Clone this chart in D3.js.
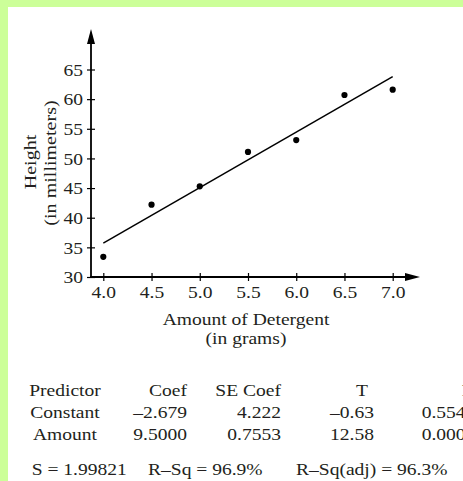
<!DOCTYPE html>
<html><head><meta charset="utf-8">
<script src="https://cdn.jsdelivr.net/npm/d3@7"></script>
<style>html,body{margin:0;padding:0;background:#ccff99;overflow:hidden}</style>
</head><body><svg id="c" width="463" height="481"></svg>
<script>
// ---- data ----
const amounts = [4.0, 4.5, 5.0, 5.5, 6.0, 6.5, 7.0];
const heights = [33.4, 42.2, 45.3, 51.1, 53.1, 60.7, 61.6];
const fitAmounts = [4.0, 7.0];
const fitHeights = [35.7, 63.8];
const xTicks = [4.0, 4.5, 5.0, 5.5, 6.0, 6.5, 7.0];
const yTicks = [30, 35, 40, 45, 50, 55, 60, 65];
const xTitle = ["Amount of Detergent", "(in grams)"];
const yTitle = ["Height", "(in millimeters)"];
const tableHeader = ["Predictor", "Coef", "SE Coef", "T", "P"];
const predictors = ["Constant", "Amount"];
const coefs = ["\u20132.679", "9.5000"];
const seCoefs = ["4.222", "0.7553"];
const tValues = ["\u20130.63", "12.58"];
const pValues = ["0.554", "0.000"];
const summary = ["S = 1.99821", "R\u2013Sq = 96.9%", "R\u2013Sq(adj) = 96.3%"];

// ---- setup ----
const svg = d3.select("#c");
const FONT = "'Liberation Serif', 'Times New Roman', serif";
const FS = 17, SX = 1.15, INK = "#231f20";
svg.append("rect").attr("x", 8).attr("y", 7).attr("width", 455).attr("height", 474).attr("fill", "#fff");

function txt(g, x, y, s, anchor, rot) {
  return g.append("text")
    .attr("transform", `translate(${x},${y})` + (rot ? ` rotate(${rot})` : "") + ` scale(${rot ? 1.18 : SX},1)`)
    .attr("text-anchor", anchor || "start")
    .attr("font-family", FONT).attr("font-size", FS).attr("fill", INK)
    .text(s);
}

const x = d3.scaleLinear().domain([4.0, 7.0]).range([103.3, 392.7]);
const y = d3.scaleLinear().domain([30, 65]).range([277, 69.5]);
const x0 = 91, y0 = 277;

// axes lines with arrows
svg.append("line").attr("x1", x0).attr("x2", x0).attr("y1", y0 + 1).attr("y2", 40).attr("stroke", "#000").attr("stroke-width", 1.8);
svg.append("line").attr("x1", x0 - 1).attr("x2", 410).attr("y1", y0).attr("y2", y0).attr("stroke", "#000").attr("stroke-width", 1.8);
svg.append("path").attr("d", `M${x0},29 L${x0 - 4},44 L${x0 + 4},44 Z`).attr("fill", "#000");
svg.append("path").attr("d", `M420,${y0} L405,${y0 - 4} L405,${y0 + 4} Z`).attr("fill", "#000");

// x axis ticks/labels
const gx = svg.append("g").attr("transform", `translate(0,${y0})`)
  .call(d3.axisBottom(x).tickValues(xTicks).tickFormat(d3.format(".1f")).tickSizeOuter(0));
gx.select(".domain").remove();
gx.selectAll(".tick line").attr("y1", -4).attr("y2", 4).attr("stroke", "#000").attr("stroke-width", 1.2);
gx.selectAll(".tick text").attr("y", 0).attr("dy", null)
  .attr("transform", "translate(0,21) scale(" + SX + ",1)")
  .attr("font-family", FONT).attr("font-size", FS).attr("fill", INK);

// y axis ticks/labels
const gy = svg.append("g").attr("transform", `translate(${x0},0)`)
  .call(d3.axisLeft(y).tickValues(yTicks).tickSizeOuter(0));
gy.select(".domain").remove();
gy.selectAll(".tick line").attr("x1", -4).attr("x2", 4).attr("stroke", "#000").attr("stroke-width", 1.2);
gy.selectAll(".tick text").attr("x", 0).attr("dy", "0.34em")
  .attr("transform", "translate(-8,0) scale(" + SX + ",1)")
  .attr("font-family", FONT).attr("font-size", FS).attr("fill", INK);

// fit line
svg.append("path")
  .datum(fitAmounts.map((a, i) => [a, fitHeights[i]]))
  .attr("d", d3.line().x(d => x(d[0])).y(d => y(d[1])))
  .attr("stroke", "#000").attr("stroke-width", 1.5).attr("fill", "none");

// points
svg.selectAll("circle.pt").data(amounts.map((a, i) => [a, heights[i]]))
  .enter().append("circle").attr("class", "pt")
  .attr("cx", d => x(d[0])).attr("cy", d => y(d[1])).attr("r", 3.1).attr("fill", "#000");

// titles
txt(svg, 246, 325, xTitle[0], "middle");
txt(svg, 246, 344, xTitle[1], "middle");
txt(svg, 36, 162, yTitle[0], "middle", -90);
txt(svg, 56, 163, yTitle[1], "middle", -90);

// table
const rowsY = [396, 418, 440];
txt(svg, 65, rowsY[0], tableHeader[0], "middle");
txt(svg, 187, rowsY[0], tableHeader[1], "end");
txt(svg, 281, rowsY[0], tableHeader[2], "end");
txt(svg, 362, rowsY[0], tableHeader[3], "middle");
txt(svg, 461.7, rowsY[0], tableHeader[4], "start");
predictors.forEach((p, i) => {
  const yy = rowsY[i + 1];
  txt(svg, 65, yy, p, "middle");
  txt(svg, 187, yy, coefs[i], "end");
  txt(svg, 281, yy, seCoefs[i], "end");
  txt(svg, 374, yy, tValues[i], "end");
  txt(svg, 421.7, yy, pValues[i], "start");
});
const sumX = [31.7, 148, 296];
summary.forEach((s, i) => txt(svg, sumX[i], 475, s, "start"));
</script></body></html>
